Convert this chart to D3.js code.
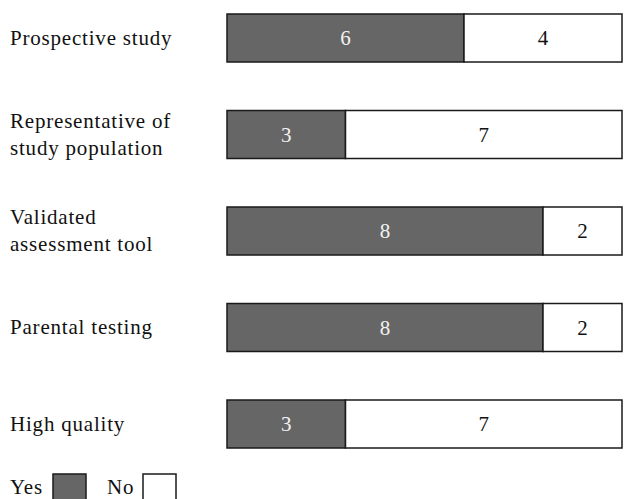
<!DOCTYPE html>
<html>
<head>
<meta charset="utf-8">
<script src="https://cdn.jsdelivr.net/npm/d3@7"></script>
<style>
  html, body { margin: 0; padding: 0; background: #fff; }
  svg { display: block; font-family: "Liberation Serif", "DejaVu Serif", serif; }
</style>
</head>
<body>
<svg id="chart" width="625" height="499"></svg>
<script>
// Quality criteria met (Yes) or not met (No) across the studies
const criteria = [
  ["Prospective study"],
  ["Representative of", "study population"],
  ["Validated", "assessment tool"],
  ["Parental testing"],
  ["High quality"]
];
const yesCounts = [6, 3, 8, 8, 3];
const noCounts = [4, 7, 2, 2, 7];
const legendLabels = ["Yes", "No"];

const yesColor = "#666666";
const noColor = "#ffffff";
const strokeColor = "#1a1a1a";
const labelSize = 21;

const svg = d3.select("#chart");

const rows = criteria.map((lines, i) => ({
  key: lines.join(" "),
  lines,
  yes: yesCounts[i],
  no: noCounts[i]
}));

const x = d3.scaleLinear()
  .domain([0, d3.max(rows, d => d.yes + d.no)])
  .range([227, 622]);

const y = d3.scalePoint()
  .domain(rows.map(d => d.key))
  .range([38, 424]);

const barH = 48;

const row = svg.selectAll("g.row")
  .data(rows)
  .join("g")
  .attr("class", "row")
  .attr("transform", d => `translate(0,${y(d.key)})`);

// category labels
row.append("text")
  .attr("x", 10)
  .attr("font-size", labelSize)
  .attr("letter-spacing", 0.8)
  .attr("fill", "#111")
  .each(function (d) {
    const t = d3.select(this);
    const lh = 27;
    const off = -(d.lines.length - 1) * lh / 2;
    d.lines.forEach((ln, k) => {
      t.append("tspan")
        .attr("x", 10)
        .attr("y", off + k * lh)
        .attr("dy", "0.33em")
        .text(ln);
    });
  });

// Yes segment
row.append("rect")
  .attr("x", x(0))
  .attr("y", -barH / 2)
  .attr("width", d => x(d.yes) - x(0))
  .attr("height", barH)
  .attr("fill", yesColor)
  .attr("stroke", strokeColor)
  .attr("stroke-width", 1.5);

// No segment
row.append("rect")
  .attr("x", d => x(d.yes))
  .attr("y", -barH / 2)
  .attr("width", d => x(d.yes + d.no) - x(d.yes))
  .attr("height", barH)
  .attr("fill", noColor)
  .attr("stroke", strokeColor)
  .attr("stroke-width", 1.5);

// segment value labels
row.append("text")
  .attr("x", d => (x(0) + x(d.yes)) / 2)
  .attr("dy", "0.35em")
  .attr("text-anchor", "middle")
  .attr("font-size", labelSize)
  .attr("fill", "#f2f2f2")
  .text(d => d.yes);

row.append("text")
  .attr("x", d => (x(d.yes) + x(d.yes + d.no)) / 2)
  .attr("dy", "0.35em")
  .attr("text-anchor", "middle")
  .attr("font-size", labelSize)
  .attr("fill", "#111")
  .text(d => d.no);

// legend
const legend = svg.append("g").attr("transform", "translate(10,488)");
const legendItems = [
  { label: legendLabels[0], fill: yesColor, tx: 0, bx: 43 },
  { label: legendLabels[1], fill: noColor, tx: 97, bx: 133 }
];
legendItems.forEach(it => {
  legend.append("text")
    .attr("x", it.tx)
    .attr("y", 6)
    .attr("font-size", labelSize)
    .attr("letter-spacing", 0.8)
    .attr("fill", "#111")
    .text(it.label);
  legend.append("rect")
    .attr("x", it.bx)
    .attr("y", -14)
    .attr("width", 33)
    .attr("height", 30)
    .attr("fill", it.fill)
    .attr("stroke", strokeColor)
    .attr("stroke-width", 1.5);
});
</script>
</body>
</html>
